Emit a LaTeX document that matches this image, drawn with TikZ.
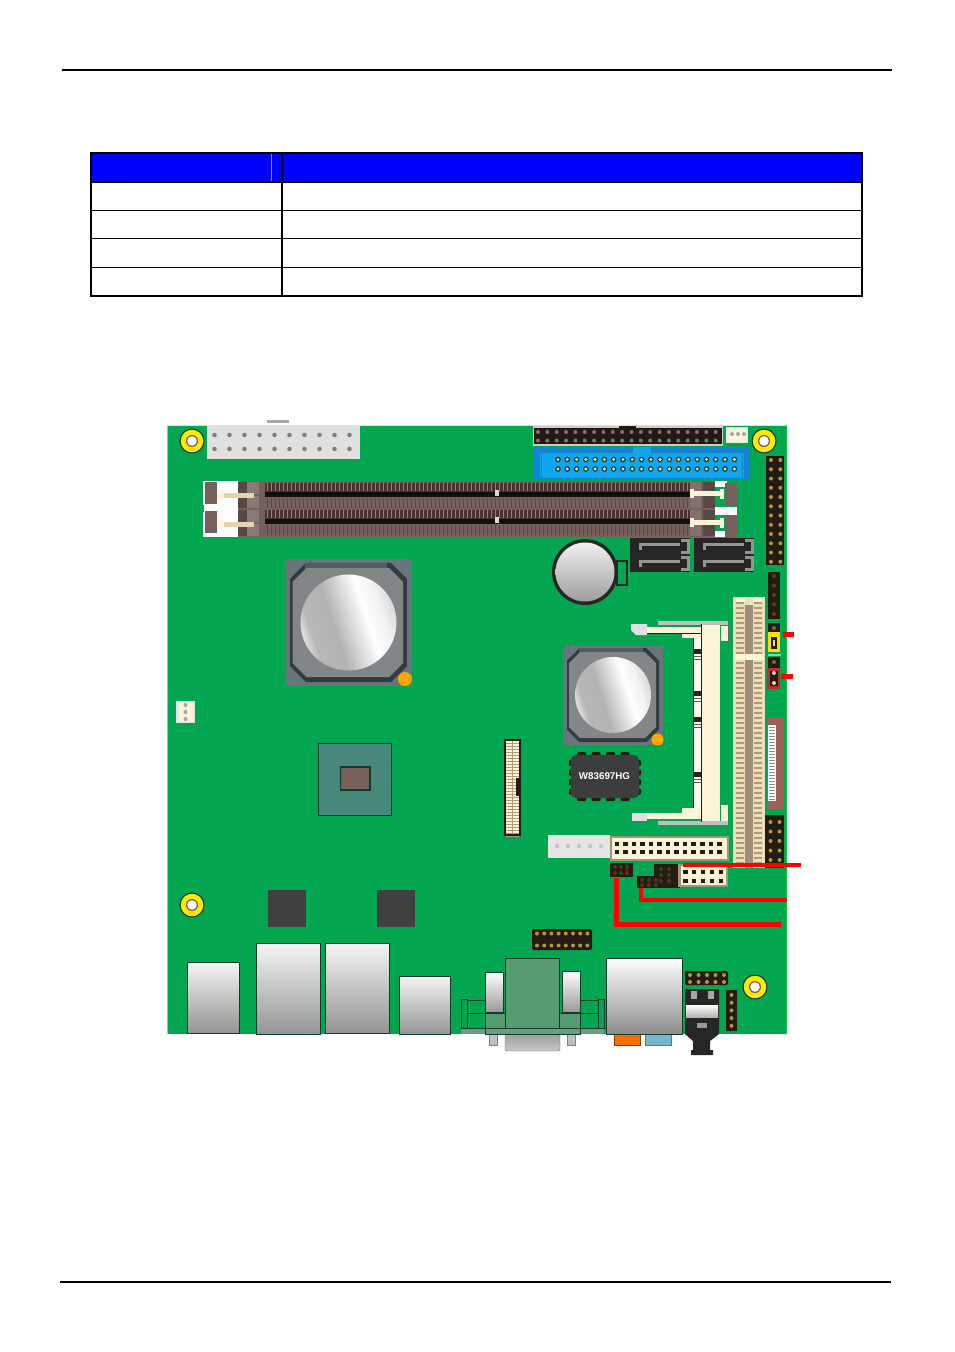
\documentclass[tikz,border=0pt]{standalone}
\usepackage{fontspec}
\setmainfont{Liberation Sans}
\usetikzlibrary{calc}
\definecolor{pcb}{HTML}{03A650}
\definecolor{redline}{HTML}{FF0000}
\definecolor{tableblue}{HTML}{0000FF}
\definecolor{cream}{HTML}{FBF4D6}
\definecolor{tan}{HTML}{E8D3AE}
\definecolor{rung}{HTML}{B09A78}
\definecolor{hdr}{HTML}{221C14}
\definecolor{gold}{HTML}{B8923E}
\definecolor{brownA}{HTML}{75605C}
\definecolor{brownB}{HTML}{4A3230}
\definecolor{chipA}{HTML}{66767A}
\definecolor{chipB}{HTML}{838689}
\definecolor{chipC}{HTML}{343B3E}
\definecolor{chipD}{HTML}{4F5C60}
\definecolor{teal}{HTML}{47887A}
\definecolor{edgeg}{HTML}{123A2A}
\definecolor{vga}{HTML}{569C70}
\definecolor{vgab}{HTML}{6C9C82}
\definecolor{sky}{HTML}{11A5EE}
\definecolor{skyd}{HTML}{1285D0}
\pgfdeclarehorizontalshading{metal}{100bp}{color(0bp)=(black!30);color(25bp)=(black!12);color(30bp)=(black!28);color(42bp)=(black!30);color(60bp)=(white);color(68bp)=(black!5);color(75bp)=(black!15);color(100bp)=(black!15)}
\tikzset{
  rule/.style={line width=2.2pt,black},
  cell/.style={line width=1.1pt,black},
  port/.style={draw=edgeg,line width=1pt,top color=white!96!black,bottom color=black!42},
  metalc/.style={shading=metal,shading angle=18},
  redl/.style={redline,line width=4.4pt},
  frameg/.style={edgeg,line width=.9pt},
}
\def\pinr{2}
\newcommand{\pins}[7]{\foreach \i in {1,...,#5}\foreach \j in {1,...,#6}\fill[#7] ({#1+(\i-1)*#3},{#2+(\j-1)*#4}) circle (\pinr pt);}
\newcommand{\hole}[2]{\fill[edgeg] (#1,#2) circle (12.5pt);\fill[yellow!92!orange] (#1,#2) circle (11.3pt);\fill[brownA] (#1,#2) circle (6pt);\fill[white] (#1,#2) circle (4.8pt);}
\newcommand{\octa}[6]{\fill[#6] ({#1+#5},#2) -- ({#3-#5},#2) -- (#3,{#2+#5}) -- (#3,{#4-#5}) -- ({#3-#5},#4) -- ({#1+#5},#4) -- (#1,{#4-#5}) -- (#1,{#2+#5}) -- cycle;}
\newcommand{\bga}[5]{% x0,y0,size,circle r,dot r
  \fill[chipA] (#1,#2) rectangle ++(#3,#3);
  \pgfmathsetmacro\sz{#3}
  \octa{#1+.04*\sz}{#2+.03*\sz}{#1+.96*\sz}{#2+.97*\sz}{.125*\sz}{chipC}
  \fill[chipD] ({#1+.16*\sz},{#2+.03*\sz}) rectangle ({#1+.8*\sz},{#2+.08*\sz});
  \octa{#1+.06*\sz}{#2+.07*\sz}{#1+.93*\sz}{#2+.93*\sz}{.11*\sz}{chipB}
  \shade[metalc] ({#1+.5*\sz},{#2+.5*\sz}) circle (#4pt);
  \fill[orange!70!yellow] ({#1+.945*\sz},{#2+.945*\sz}) circle (#5pt);}
\newcommand{\satapair}[2]{% x0, y0
  \fill[black!85] (#1,#2) rectangle ++(60,34);
  \foreach \k in {0,17}{
    \fill[black!42] ({#1+9},{#2+\k+5}) rectangle ++(41,3);
    \fill[black!42] ({#1+9},{#2+\k+5}) rectangle ++(3,7);
    \fill[black!42] ({#1+51},{#2+\k+1}) rectangle ++(9,3);
    \fill[black!42] ({#1+57},{#2+\k+1}) rectangle ++(3,14);
    \fill[black!42] ({#1+51},{#2+\k+13}) rectangle ++(9,3);}
}
\begin{document}
\begin{tikzpicture}[x=1pt,y=-1pt]
\useasboundingbox (0,0) rectangle (954,1352);
\fill[white] (0,0) rectangle (954,1352);
% page rules
\draw[rule] (62,70) -- (892,70);
\draw[rule] (60,1282) -- (891,1282);
% table
\fill[tableblue] (91,153) rectangle (862,182);
\draw[white!55!tableblue,line width=.6pt] (271,154) -- (271,181);
\draw[cell] (91,153) rectangle (862,296);
\draw[cell] (282,153) -- (282,296);
\draw[line width=1.6pt] (91,182) -- (862,182);
\foreach \y in {210.5,238.5,267.5} \draw[cell] (91,\y) -- (862,\y);
% board
\fill[pcb] (167,425) rectangle (786,1034);
\draw[black!30,line width=.8pt] (167,425) -- (167,1034);
\draw[black!12,line width=.8pt] (167,425) -- (786,425);
\draw[green!40!pcb,line width=1pt] (786,425) -- (786,1034);
% mounting holes
\hole{192}{441}\hole{764}{441}\hole{192}{905}\hole{755}{987}
% ATX
\fill[black!35] (267,420) rectangle (289,422.5);
\fill[black!12] (207,425) rectangle (360,459);
\def\pinr{2.3}
\pins{214.5}{435}{15}{14}{10}{2}{black!50}
\def\pinr{2}
% DIMM
\fill[white] (203,481) rectangle (240,537);
\fill[white] (715,481) rectangle (727,487);
\fill[white] (715,507) rectangle (737,515);
\fill[white] (715,531) rectangle (727,537);
\fill[pcb] (203,505) rectangle (204,512);
\fill[brownA] (238,481) rectangle (715,537);
\foreach \y in {481,495,509,523}{
  \fill[black!25!brownA] (238,{\y+1}) rectangle (247,{\y+13});
  \fill[black!8!brownA!80!white] (247,{\y+1}) rectangle (259,{\y+13});
  \fill[black!8!brownA!85!white] (690,{\y+1}) rectangle (701,{\y+13});
  \fill[black!25!brownA] (703,{\y+1}) rectangle (715,{\y+13});
}
\foreach \y in {483,510}{
  \fill[brownB] (265,\y) rectangle (690,{\y+9});
  \fill[black!72!brownB] (265,{\y+9}) rectangle (690,{\y+13.5});
  \foreach \i in {0,...,105} \draw[brownA!80!white,line width=.8pt] ({267+\i*4},\y) -- ++(0,8);
  \foreach \i in {0,...,105} \draw[black!22!brownA,line width=.7pt] ({267+\i*4},{\y+15}) -- ++(0,10);
}
\fill[black!15] (495,490) rectangle (499,496);
\fill[black!15] (495,517) rectangle (499,523);
\foreach \y in {482,511}{
  \fill[brownA] (205,\y) rectangle (217,{\y+22});
  \fill[cream] (218,{\y+8}) rectangle (224,{\y+17});
  \fill[tan] (224,{\y+11}) rectangle (254,{\y+16});
}
\foreach \y in {483,515}{\fill[brownA] (725,\y) rectangle (737,{\y+23});}
\foreach \y in {491,520}{
  \fill[cream] (690,{\y-2}) rectangle (694,{\y+7});
  \fill[cream] (690,\y) rectangle (722,{\y+5});
  \fill[cream] (720,{\y-2}) rectangle (724,{\y+8});
}
% black IDE header
\fill[black!20] (533,426) rectangle (723,446);
\fill[black!50!brownB] (534,428) rectangle (722,444);
\fill[black!50!brownB] (619,425.5) rectangle (636,428);
\pins{538}{432}{9.35}{8.5}{20}{2}{black!45!tan}
% small white header
\fill[black!8] (726,427) rectangle (748,443);
\fill[cream] (729,428) rectangle (746,441);
\pins{732}{434}{6}{1}{3}{1}{black!35}
% blue connector
\fill[skyd] (534,447) rectangle (750,480);
\fill[sky] (540,453) rectangle (744,478);
\fill[sky] (633,447) rectangle (651,453);
\draw[skyd,line width=1pt] (541.5,453) -- (541.5,478) (742.5,453) -- (742.5,478);
\def\pinr{2.8}
\pins{558}{459.5}{9.28}{9.5}{20}{2}{black!65!sky}
\def\pinr{1.7}
\pins{558}{459.5}{9.28}{9.5}{20}{2}{yellow!45!tan}
\def\pinr{2}
% right headers
\fill[hdr] (766,456) rectangle (784,565);
\pins{771}{460}{9.3}{9.25}{2}{12}{gold}
\fill[hdr] (768,572) rectangle (780,619);
\pins{774}{576}{1}{9.5}{1}{5}{black!55!gold}
\fill[hdr] (768,623) rectangle (780,634);
\pins{774}{628}{1}{1}{1}{1}{black!30!gold}
\fill[yellow!80!orange] (768,632) rectangle (780,652);
\fill[hdr] (771,637) rectangle (777,649);
\fill[tan] (773,640) rectangle (775,646);
\fill[white!50!pcb] (768,654) rectangle (781,656);
\fill[hdr] (768,657) rectangle (780,668);
\pins{774}{662}{1}{1}{1}{1}{black!30!gold}
\fill[red!55!brownA] (767,668) rectangle (780,689);
\fill[hdr] (770,671) rectangle (778,686);
\pins{774}{673}{1}{10}{1}{2}{tan}
% SATA
\satapair{630}{538}
\satapair{694}{538}
% battery
\draw[black!85,line width=1.6pt,fill=pcb] (617,561) rectangle (627,585);
\fill[black!85] (585,572) circle (33pt);
\shade[top color=black!6,bottom color=black!38] (585,572) circle (29.5pt);
% chips
\bga{285}{559}{127}{48}{7}
\bga{563}{645}{100}{38}{6}
% small left connector
\fill[black!10] (176,701) rectangle (195,723);
\fill[cream] (179,703) rectangle (193,721);
\pins{185.5}{705}{1}{7}{1}{3}{black!35}
% CPU
\draw[edgeg,line width=1pt,fill=teal] (318,743) rectangle (391,815);
\draw[edgeg,line width=1.2pt,fill=brownA] (340.5,767) rectangle (370,790);
% squares
\fill[black!75] (268,890) rectangle (306,927);
\fill[black!75] (377,890) rectangle (415,927);
% vertical connector
\fill[hdr] (504,739) rectangle (521,836);
\fill[cream] (506,741) rectangle (519,834);
\foreach \i in {0,...,31} \draw[rung,line width=.8pt] (506,{743+\i*3}) -- (519,{743+\i*3});
\draw[rung,line width=.8pt] (512.5,741) -- (512.5,834);
\fill[hdr] (516,778) rectangle (520,796);
% W83697HG
\foreach \i in {0,...,3}{
  \fill[hdr,rounded corners=1pt] ({577+\i*14.5},752) rectangle ++(9,5);
  \fill[hdr,rounded corners=1pt] ({577+\i*14.5},796) rectangle ++(9,5);
  \fill[hdr,rounded corners=1pt] (569,{760+\i*9.5}) rectangle ++(5,6);
  \fill[hdr,rounded corners=1pt] (636,{760+\i*9.5}) rectangle ++(5,6);}
\fill[black!76,rounded corners=5pt] (571,755) rectangle (639,798);
\node[text=white,font=\bfseries,inner sep=0pt,scale=.98] (superio) at (604.5,776.5) {W83697HG};
% SODIMM socket
\fill[black!25] (658,621) rectangle (728,625);
\fill[black!25] (658,821) rectangle (728,825);
\fill[black!12] (631,624) -- (647,624) -- (647,635) -- (636,635) -- (631,630) -- cycle;
\fill[black!12] (632,813) rectangle (647,821);
\fill[cream] (647,627) rectangle (702,633);
\draw[hdr,line width=.9pt] (647,633.5) -- (702,633.5);
\fill[cream] (647,813) rectangle (702,819);
\fill[cream] (702,625) rectangle (720,821);
\fill[cream] (721,626) rectangle (728,641);
\draw[black!60,line width=.8pt] (721,641) -- (728,641) -- (728,626);
\fill[cream] (721,805) rectangle (728,821);
\fill[cream] (682,634) rectangle (701,638);
\fill[cream] (682,808) rectangle (701,812.5);
\draw[hdr,line width=.8pt] (701.5,624) -- (701.5,822);
\fill[white!60!cream] (693,638) rectangle (701,808);
\draw[hdr,line width=.5pt] (693,638) -- (693,808);
\foreach \y in {649,691,717,772}{
  \fill[black!85] (693,\y) rectangle (701,{\y+5});
  \draw[black!65,line width=.8pt] (693,{\y+7}) -- (701,{\y+7}) (693,{\y+10}) -- (701,{\y+10});}
% PCI slot
\fill[tan!70!cream] (733,597) rectangle (765,868);
\fill[brownA!62!tan] (745,605) rectangle (753,868);
\foreach \y in {603,608,...,866} \draw[rung,line width=1.5pt] (736,\y) -- (744,\y) (754,\y) -- (762,\y);
\fill[cream] (736,598) rectangle (745,602);
\fill[cream] (753,598) rectangle (762,602);
\fill[cream] (734,654) rectangle (764,660);
% red-brown connector
\fill[red!20!brownA!85!tan] (767,717) rectangle (784,809);
\fill[white] (768,725) rectangle (776,801);
\foreach \i in {0,...,24} \draw[black!45,line width=.8pt] (769,{727+\i*3}) -- (775,{727+\i*3});
% right bottom header
\fill[hdr] (765,815) rectangle (784,868);
\pins{770.5}{822}{9}{9.5}{2}{5}{gold}
% white power connector
\fill[black!10] (548,835) rectangle (610,858);
\def\pinr{2.2}
\pins{557}{846}{11}{1}{5}{1}{black!22}
\def\pinr{2}
% cream 26-pin connector
\fill[black!30!tan] (610,836) rectangle (729,861);
\fill[cream] (612,838) rectangle (727,859);
\foreach \i in {0,...,12}\foreach \j in {0,1}
  \fill[hdr] ({614.5+\i*8.55},{842+\j*7.5}) rectangle ++(4.5,4.2);
% small headers
\fill[hdr] (610,863) rectangle (633,877);
\fill[red!60!black] (625,864) rectangle (628,875);
\pins{615}{867}{6}{6}{3}{2}{black!60!gold}
\fill[hdr] (654,864) rectangle (680,888);
\fill[hdr] (637,876) rectangle (680,888);
\pins{661}{869}{8}{6}{2}{3}{black!60!gold}
\pins{642}{880}{7}{5}{3}{2}{black!60!gold}
\fill[black!30!tan] (678,864) rectangle (728,887);
\fill[cream] (681,866) rectangle (726,885);
\foreach \i in {0,...,4}\foreach \j in {0,1}
  \fill[hdr] ({683+\i*8.9},{870+\j*8.5}) rectangle ++(4.5,4);
% centre header
\fill[hdr,rounded corners=2pt] (532,929) rectangle (592,950);
\pins{537}{933.5}{7.2}{12}{8}{2}{gold}
% ports
\fill[port] (187,962) rectangle (239,1033);
\fill[port] (256,943) rectangle (320,1034);
\fill[port] (325,943) rectangle (389,1033);
\fill[port] (399,976) rectangle (450,1034);
\draw[edgeg] (187,962) rectangle (239,1033);
\draw[edgeg] (256,943) rectangle (320,1034);
\draw[edgeg] (325,943) rectangle (389,1033);
\draw[edgeg] (399,976) rectangle (450,1034);
% VGA
\draw[black!50,fill=black!25] (489,1034) rectangle (497,1045);
\draw[black!50,fill=black!25] (567,1034) rectangle (575,1045);
\shade[draw=black!55,rounded corners=2pt,top color=black!38,bottom color=black!22] (505,1034) rectangle (560,1051);
\shade[draw=edgeg,top color=white,bottom color=black!40] (485,972) rectangle (503,1012);
\shade[draw=edgeg,top color=white,bottom color=black!40] (562,971) rectangle (580,1012);
\draw[frameg] (461,999) rectangle (467,1028);
\draw[frameg] (598,999) rectangle (604,1028);
\draw[frameg] (467,1000) -- (485,1000) (580,1000) -- (598,1000);
\draw[frameg] (467,1013.5) -- (598,1013.5);
\draw[frameg,fill=vga] (485,1013) rectangle (505,1028);
\draw[frameg,fill=vga] (559,1013) rectangle (580,1028);
\fill[vgab] (461,1028) rectangle (604,1034);
\draw[frameg] (461,1028) -- (604,1028);
\draw[frameg] (485,1028) rectangle (580,1034);
\draw[edgeg,line width=1pt,fill=vga] (505,958) rectangle (559,1028);
% audio
\draw[black!50!orange,fill=orange!85!red] (614,1034) rectangle (640,1045);
\draw[black!40!cyan,fill=cyan!45!teal!75!white] (645,1034) rectangle (671,1045);
\draw[edgeg,line width=1pt,top color=white,bottom color=black!45] (606,958) rectangle (682,1034);
\fill[hdr,rounded corners=1.5pt] (685,971) rectangle (728,985);
\pins{690}{975}{8.5}{7}{5}{2}{gold}
% USB stack
\fill[black!85] (685,989) -- (719,989) -- (719,1034) -- (710,1041) -- (710,1050) -- (713,1050) -- (713,1055) -- (691,1055) -- (691,1050) -- (693,1050) -- (693,1041) -- (685,1034) -- cycle;
\fill[black!35] (691,991) rectangle (697,999);
\fill[black!35] (708,991) rectangle (714,999);
\shade[top color=white,bottom color=black!30] (686,1005) rectangle (718,1017);
\fill[black!40] (697,1023) rectangle (707,1028);
\fill[hdr] (726,990) rectangle (737,1031);
\pins{731.5}{995}{1}{7.7}{1}{5}{gold}
% red leader lines
\coordinate (ja) at (783,634.5);
\coordinate (jaend) at (794,634.5);
\coordinate (jb) at (781,676.5);
\coordinate (jbend) at (793,676.5);
\coordinate (jc) at (683,865);
\coordinate (jcend) at (801,865);
\coordinate (jd) at (641,888);
\coordinate (jdend) at (787,900);
\coordinate (je) at (616.5,878);
\coordinate (jeend) at (781,924.5);
\draw[redl,line width=5pt] (ja) -- (jaend);
\draw[redl,line width=5pt] (jb) -- (jbend);
\draw[redl] (jc) -- (jcend);
\draw[redl] (jd) |- (jdend);
\draw[redl] (je) |- (jeend);
\end{tikzpicture}
\end{document}
